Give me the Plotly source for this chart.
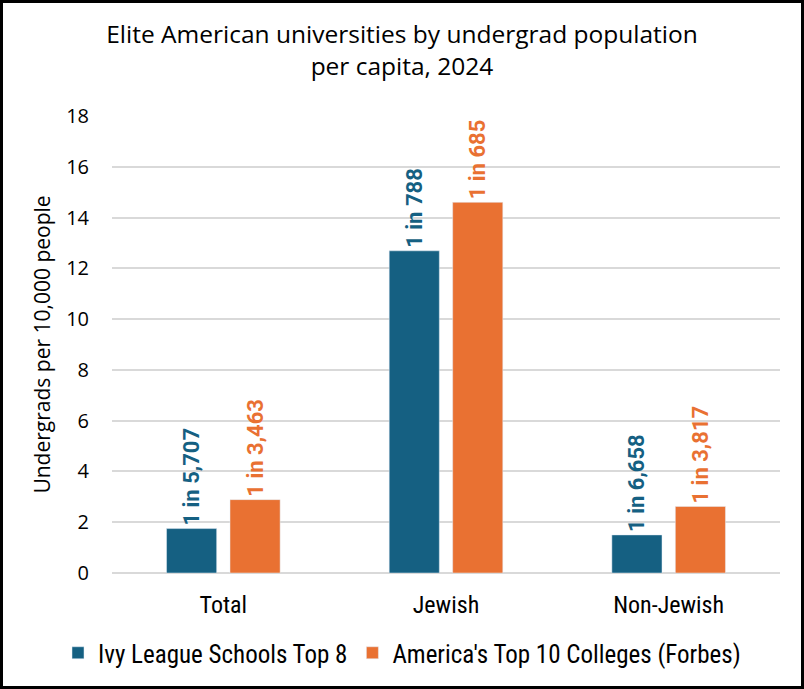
import plotly.graph_objects as go

categories = ['Total', 'Jewish', 'Non-Jewish']
ivy_values = [1.75, 12.69, 1.50]
ivy_labels = ['1 in 5,707', '1 in 788', '1 in 6,658']
forbes_values = [2.89, 14.60, 2.62]
forbes_labels = ['1 in 3,463', '1 in 685', '1 in 3,817']

blue = '#156082'
orange = '#E97132'
narrow = 'Liberation Sans Narrow, Roboto Condensed, sans-serif'

fig = go.Figure()
for vals, labels, name, color in [(ivy_values, ivy_labels, 'Ivy League Schools Top 8', blue),
                                  (forbes_values, forbes_labels, "America's Top 10 Colleges (Forbes)", orange)]:
    fig.add_trace(go.Bar(x=categories, y=vals, name=name, marker_color=color,
                         text=labels, texttemplate='%{text}\u00a0', textposition='outside',
                         textangle=-90, cliponaxis=False, constraintext='none',
                         textfont=dict(color=color, size=22, family='Roboto', weight='bold')))

# plot area in pixels
W, H = 804, 689
l, r, t, b = 112, 24, 116, 116
pw, ph = W - l - r, H - t - b

fig.update_layout(
    width=W, height=H,
    margin=dict(l=l, r=r, t=t, b=b, autoexpand=False),
    paper_bgcolor='white', plot_bgcolor='white',
    font=dict(family='Open Sans, Roboto, sans-serif', color='black'),
    title=dict(text='Elite American universities by undergrad population<br>per capita, 2024',
               x=0.5, xanchor='center', yref='container', y=1 - 43 / H, yanchor='top',
               font=dict(size=24.5, color='black')),
    barmode='group', bargap=0.43, bargroupgap=0.21,
    showlegend=True,
    legend=dict(orientation='h', x=(58 - l) / pw, xanchor='left', y=-80 / ph, yanchor='middle',
                bgcolor='rgba(0,0,0,0)',
                font=dict(size=25, family=narrow), itemwidth=30, traceorder='normal'),
    shapes=[dict(type='rect', xref='paper', yref='paper',
                 x0=-(l - 1.5) / pw, x1=1 + (r - 1.5) / pw,
                 y0=-(b - 1.5) / ph, y1=1 + (t - 1.5) / ph,
                 line=dict(color='black', width=3))],
)
fig.update_xaxes(showgrid=False, showline=False, ticks='', ticklabelstandoff=15,
                 tickfont=dict(size=24, family=narrow))
fig.update_yaxes(range=[0, 18], dtick=2, showgrid=True, gridcolor='#D9D9D9', gridwidth=1.5,
                 zeroline=True, zerolinecolor='#D9D9D9', zerolinewidth=1.5,
                 showline=False, ticks='', ticklen=0,
                 tickfont=dict(size=20), ticklabelstandoff=22,
                 title=dict(text='Undergrads per 10,000 people', font=dict(size=21), standoff=9))

fig.write_html('out.html', config={'displayModeBar': False},
               post_script="document.body.style.margin='0';")
